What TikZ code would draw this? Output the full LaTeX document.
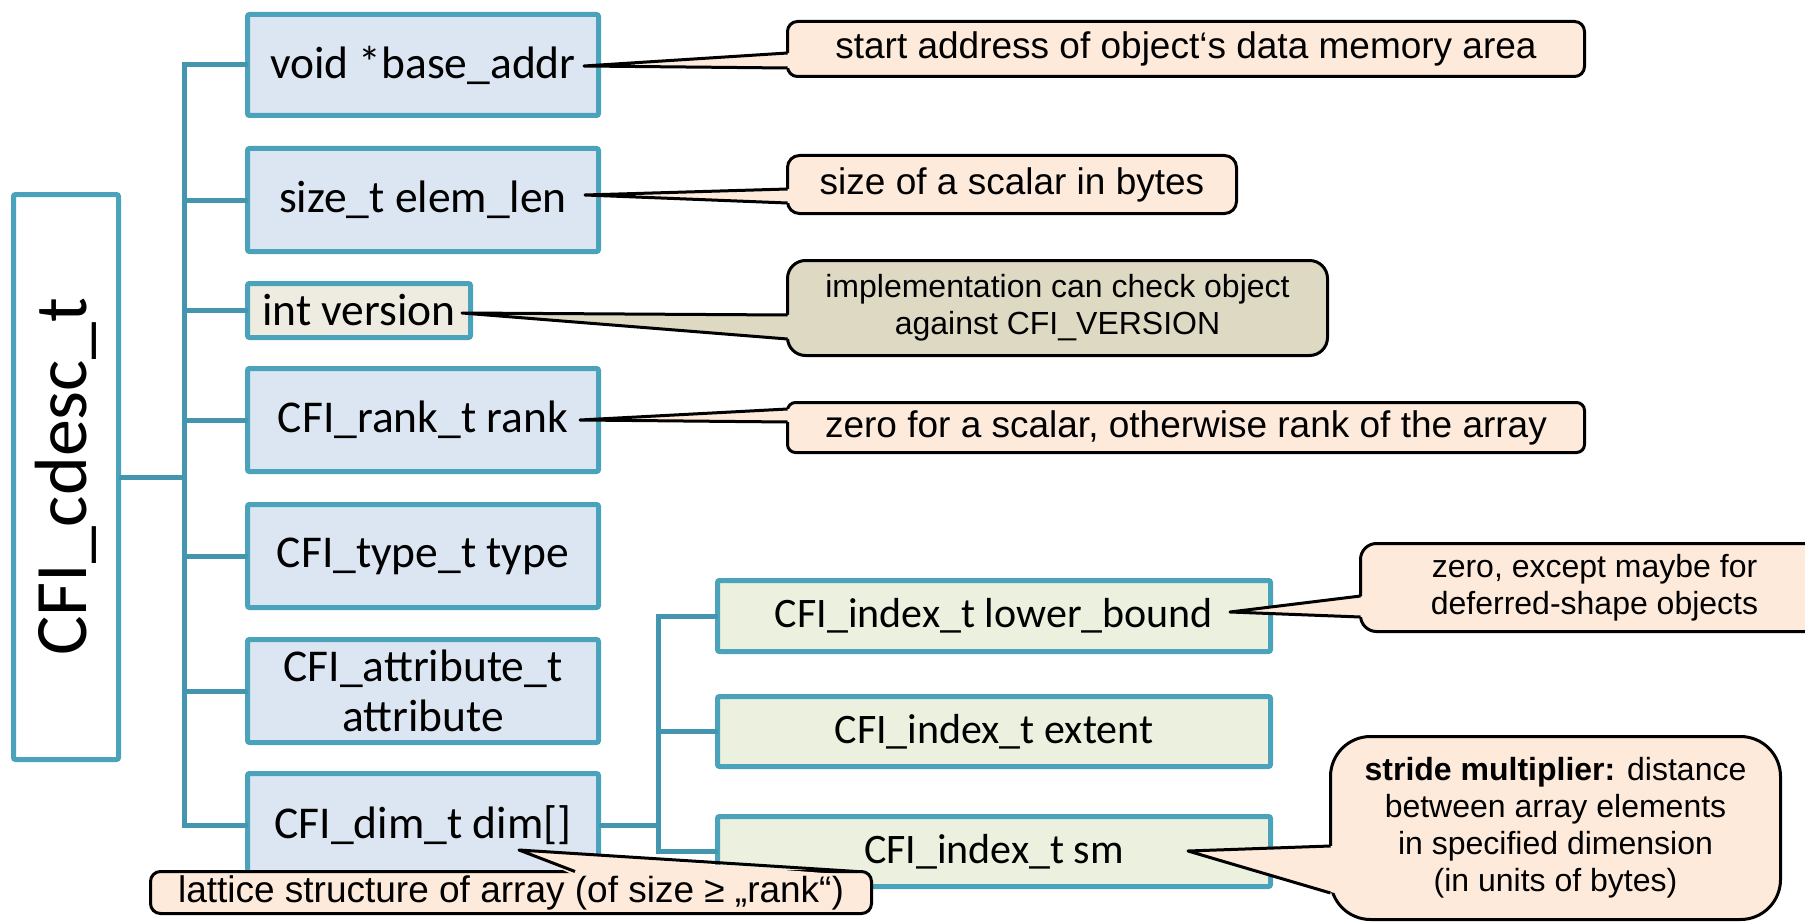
\documentclass[tikz,border=0pt]{standalone}
\usepackage{fontspec}
\usepackage{graphicx}
\setmainfont{Carlito}
\newfontfamily\callfont{Liberation Sans}
\usetikzlibrary{calc}
\definecolor{teal1}{HTML}{4BA2BB}
\definecolor{teal2}{HTML}{4396AE}
\definecolor{bluefill}{HTML}{DCE6F2}
\definecolor{tanfill}{HTML}{EEECE1}
\definecolor{greenfill}{HTML}{EBF1DE}
\definecolor{peach}{HTML}{FDEADA}
\definecolor{khaki}{HTML}{DDD9C3}
\begin{document}
\begin{tikzpicture}[x=1pt,y=-1pt,
  field/.style={draw=teal1, line width=5pt, fill=bluefill, rounded corners=2pt, inner sep=0pt, outer sep=0pt, minimum width=351pt, minimum height=103pt, align=center, font=\fontsize{45.5}{50}\selectfont},
  subfield/.style={field, fill=greenfill, minimum width=553pt, minimum height=70pt, font=\fontsize{42}{50}\selectfont},
  tree/.style={draw=teal2, line width=5pt},
  callout/.style={draw=black, line width=3pt, fill=peach, rounded corners=12pt, inner sep=0pt, outer sep=0pt, align=center, font=\callfont\fontsize{37}{42}\selectfont},
  smallcall/.style={callout, font=\callfont\fontsize{32}{37}\selectfont},
  ptr/.style={draw=black, line width=3pt, line join=round},
]
\useasboundingbox (0,0) rectangle (1805,923);
\clip (0,0) rectangle (1805,923);

% main descriptor box
\node[draw=teal1, line width=5pt, fill=white, rounded corners=2pt, inner sep=0pt, outer sep=0pt,
      minimum width=105pt, minimum height=565pt] (cdesc) at (66,477)
      {\rotatebox{90}{\fontsize{74}{80}\selectfont CFI\_cdesc\_t}};

% fields
\node[field] (b1) at (423,65) [minimum height=101pt] {void *base\_addr};
\node[field] (b2) at (423,200) {size\_t elem\_len};
\node[field, fill=tanfill, minimum width=223pt, minimum height=54pt] (b3) at (359,310.5) {int version};
\node[field] (b4) at (423,420) {CFI\_rank\_t rank};
\node[field] (b5) at (423,556) {CFI\_type\_t type};
\node[field] (b6) at (423,691) {CFI\_attribute\_t\\attribute};
\node[field] (b7) at (423,825) {CFI\_dim\_t dim[]};

% sub fields
\node[subfield, minimum height=71pt] (lb) at (994,616) {CFI\_index\_t lower\_bound};
\node[subfield] (ex) at (994,731.5) {CFI\_index\_t extent};
\node[subfield] (sm) at (994,851.5) {CFI\_index\_t sm};

% tree connectors
\coordinate (trunk) at (184,0);
\coordinate (subtrunk) at (658,0);
\draw[tree] (b1.west) -- (b1.west -| trunk) -- (b7.west -| trunk) -- (b7.west);
\foreach \b in {b2,b3,b4,b5,b6} \draw[tree] (\b.west -| trunk) -- (\b.west);
\draw[tree] (cdesc.east) -- (cdesc.east -| trunk);
\draw[tree] (lb.west) -- (lb.west -| subtrunk) -- (sm.west -| subtrunk) -- (sm.west);
\draw[tree] (ex.west -| subtrunk) -- (ex.west);
\draw[tree] (b7.east) -- (b7.east -| subtrunk);

% pointer tips
\coordinate (t1) at (584,66);
\coordinate (t2) at (585,195);
\coordinate (t3) at (462,313);
\coordinate (t4) at (580,420);
\coordinate (t5) at (1230,612);
\coordinate (t6) at (1188,851);
\coordinate (t7) at (519,850);

% callouts
\node[callout, minimum width=797pt, minimum height=55pt, rounded corners=10pt] (c1) at (1186,49)
  {start address of object‘s data memory area};
\fill[peach] ($(c1.west |- 0,53)+(4,0)$) -- (t1) -- ($(c1.west |- 0,68)+(4,0)$) -- cycle;
\draw[ptr] (c1.west |- 0,53) -- (t1) -- (c1.west |- 0,68);

\node[callout, minimum width=449pt, minimum height=58pt] (c2) at (1012,184.5)
  {size of a scalar in bytes};
\fill[peach] ($(c2.west |- 0,189)+(4,0)$) -- (t2) -- ($(c2.west |- 0,203)+(4,0)$) -- cycle;
\draw[ptr] (c2.west |- 0,189) -- (t2) -- (c2.west |- 0,203);

\node[smallcall, fill=khaki, minimum width=540pt, minimum height=95pt, rounded corners=18pt] (c3) at (1057.5,308)
  {implementation can check object\\against CFI\_VERSION};
\fill[khaki] ($(c3.west |- 0,315)+(4,0)$) -- (t3) -- ($(c3.west |- 0,339)+(4,0)$) -- cycle;
\draw[ptr] (c3.west |- 0,315) -- (t3) -- (c3.west |- 0,339);

\node[callout, minimum width=797pt, minimum height=50pt, rounded corners=8pt] (c4) at (1186,427.5)
  {zero for a scalar, otherwise rank of the array};
\fill[peach] ($(c4.west |- 0,409)+(4,0)$) -- (t4) -- ($(c4.west |- 0,422)+(4,0)$) -- cycle;
\draw[ptr] (c4.west |- 0,409) -- (t4) -- (c4.west |- 0,422);

\node[smallcall, minimum width=468pt, minimum height=88pt, rounded corners=16pt] (c5) at (1594.5,587.5)
  {zero, except maybe for\\deferred-shape objects};
\fill[peach] ($(c5.west |- 0,596)+(4,0)$) -- (t5) -- ($(c5.west |- 0,617)+(4,0)$) -- cycle;
\draw[ptr] (c5.west |- 0,596) -- (t5) -- (c5.west |- 0,617);

\node[smallcall, minimum width=450pt, minimum height=183pt, rounded corners=40pt] (c6) at (1555.5,828)
  {\textbf{stride multiplier:} distance\\between array elements\\in specified dimension\\(in units of bytes)};
\fill[peach] ($(c6.west |- 0,846)+(4,0)$) -- (t6) -- ($(c6.west |- 0,893)+(4,0)$) -- cycle;
\draw[ptr] (c6.west |- 0,846) -- (t6) -- (c6.west |- 0,893);

\node[callout, minimum width=721pt, minimum height=42pt, rounded corners=10pt] (c7) at (511,892.5)
  {lattice structure of array (of size ≥ „rank“)};
\fill[peach] ($(c7.north -| 575,0)+(0,4)$) -- (t7) -- ($(c7.north -| 857,0)+(0,4)$) -- cycle;
\draw[ptr] (c7.north -| 575,0) -- (t7) -- (c7.north -| 857,0);
\end{tikzpicture}
\end{document}
